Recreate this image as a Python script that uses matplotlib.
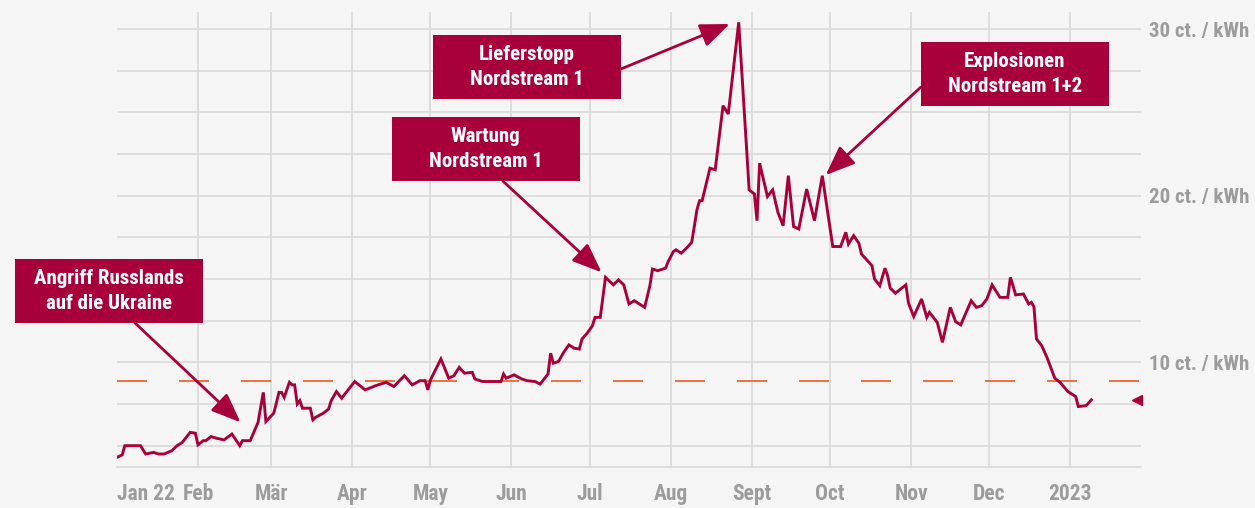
import numpy as np
import pandas as pd
import matplotlib
matplotlib.use("Agg")
import matplotlib.pyplot as plt
import matplotlib.dates as mdates
import matplotlib.transforms as mtransforms
from matplotlib.patches import Rectangle
from matplotlib import font_manager

# Gas price, days since 2022-01-01 and ct/kWh
days = [0, 2, 3, 9, 11, 14, 16, 18, 21, 23, 25, 28, 30, 31, 33, 34, 36, 38, 41, 44,
        47, 48, 51, 54, 56, 57, 60, 61, 62, 63, 64, 66, 67, 68, 69, 70, 71, 74, 75, 76,
        79, 81, 82, 84, 86, 91, 95, 99, 103, 106, 110, 113, 116, 118, 119, 120, 124, 127, 129, 131,
        133, 136, 137, 140, 147, 148, 149, 152, 155, 157, 160, 162, 165, 166, 167, 169, 171, 173, 175, 177,
        178, 180, 182, 183, 185, 187, 190, 192, 194, 196, 198, 202, 204, 205, 207, 210, 211, 213, 214, 216,
        218, 220, 221, 222, 223, 224, 227, 229, 232, 234, 238, 242, 244, 245, 246, 249, 251, 253, 255, 257,
        259, 261, 264, 267, 270, 274, 277, 279, 280, 282, 284, 285, 289, 290, 292, 294, 295, 296, 298, 302,
        303, 305, 308, 310, 311, 314, 316, 319, 321, 323, 327, 329, 331, 333, 335, 338, 341, 342, 343, 344,
        347, 349, 350, 351, 352, 354, 356, 359, 361, 364, 367, 368, 371, 373]
price = [4.3, 4.45, 5.0, 5.0, 4.5, 4.6, 4.5, 4.5, 4.7, 5.0, 5.2, 5.8, 5.75, 5.05, 5.3, 5.3, 5.55, 5.45, 5.35, 5.7,
         5.0, 5.3, 5.3, 6.4, 8.2, 6.45, 6.95, 7.55, 8.2, 8.2, 7.9, 8.8, 8.65, 8.65, 7.5, 7.7, 7.25, 7.25, 6.55, 6.7,
         6.95, 7.2, 7.7, 8.25, 7.85, 8.85, 8.35, 8.6, 8.8, 8.55, 9.2, 8.65, 8.9, 8.9, 8.35, 8.95, 10.2, 9.05, 9.2, 9.7,
         9.35, 9.4, 9.0, 8.85, 8.85, 9.3, 9.05, 9.25, 9.0, 8.9, 8.85, 8.7, 9.3, 10.55, 9.95, 10.05, 10.6, 11.05, 10.85, 10.8,
         11.4, 11.75, 12.2, 12.7, 12.7, 15.1, 14.65, 14.95, 14.65, 13.5, 13.7, 13.3, 14.6, 15.6, 15.5, 15.65, 16.05, 16.65, 16.75, 16.55,
         16.85, 17.2, 18.15, 19.15, 19.7, 19.7, 21.65, 21.55, 25.4, 24.9, 30.4, 20.35, 20.1, 18.5, 21.95, 19.95, 20.35, 19.0, 18.2, 21.2,
         18.15, 18.0, 20.4, 18.5, 21.2, 16.95, 16.95, 17.8, 17.1, 17.6, 17.15, 16.5, 15.8, 15.0, 14.6, 15.65, 15.2, 14.45, 14.15, 14.65,
         13.55, 12.75, 13.8, 12.7, 13.0, 12.4, 11.2, 13.3, 12.45, 12.25, 13.7, 13.3, 13.4, 13.8, 14.65, 13.9, 13.9, 15.1, 14.6, 14.05,
         14.1, 13.5, 13.6, 13.35, 11.4, 11.0, 10.3, 9.05, 8.8, 8.25, 7.95, 7.35, 7.4, 7.75]
reference_level = 8.9

month_ticks = ["2022-01-01", "2022-02-01", "2022-03-01", "2022-04-01", "2022-05-01", "2022-06-01",
               "2022-07-01", "2022-08-01", "2022-09-01", "2022-10-01", "2022-11-01", "2022-12-01", "2023-01-01"]
month_labels = ["Jan 22", "Feb", "Mär", "Apr", "May", "Jun", "Jul", "Aug", "Sept", "Oct", "Nov", "Dec", "2023"]
y_ticks = [10, 20, 30]
y_labels = ["10 ct. / kWh", "20 ct. / kWh", "30 ct. / kWh"]

# annotations: text, box (left day, bottom value), arrow start (day, value), arrow tip (day, value)
notes = [
    ("Angriff Russlands\nauf die Ukraine", (-39.0, 12.36), (6.9, 12.36), (47.3, 6.4)),
    ("Wartung\nNordstream 1", (105.2, 20.88), (147.7, 20.88), (185.5, 15.4)),
    ("Lieferstopp\nNordstream 1", (120.9, 25.8), (192.9, 27.6), (234.6, 30.3)),
    ("Explosionen\nNordstream 1+2", (307.7, 25.38), (307.7, 26.51), (271.3, 21.24)),
]

RED = "#A8003A"
BG = "#F5F5F5"
GRID = "#DADADA"
GREY = "#9C9C9C"
ORANGE = "#EE5A1E"

# pick a narrow family if one is there
installed = {f.name for f in font_manager.fontManager.ttflist}
wanted = ['Liberation Sans Narrow', 'DejaVu Sans Condensed', 'Roboto Condensed', 'Open Sans Condensed',
          'Roboto', 'DejaVu Sans']
plt.rcParams['font.family'] = [f for f in wanted if f in installed]

start = pd.Timestamp("2022-01-01")
dates = start + pd.to_timedelta(days, unit="D")


def to_num(d):
    return mdates.date2num(start + pd.Timedelta(days=d))


fig = plt.figure(figsize=(12.55, 5.08), dpi=100, facecolor=BG)
ax = fig.add_axes([117 / 1255, 1 - 466.7 / 508, (1141 - 117) / 1255, (466.7 - 12) / 508])
ax.set_facecolor(BG)

ax.set_xlim(to_num(0), to_num(392))
ax.set_ylim(3.74, 31.02)

# grid
ax.set_yticks(np.arange(5, 31, 2.5), minor=True)
ax.set_yticks(y_ticks)
ax.set_yticklabels(y_labels)
ax.yaxis.tick_right()
ax.grid(True, which="both", axis="y", color=GRID, lw=1.2)
ax.set_xticks(pd.to_datetime(month_ticks))
ax.set_xticklabels(month_labels)
ax.grid(True, axis="x", color=GRID, lw=1.2)
ax.xaxis.get_gridlines()[0].set_visible(False)
ax.tick_params(axis="both", which="both", length=0)
ax.tick_params(axis="x", pad=12, labelsize=15.5, labelcolor=GREY)
ax.tick_params(axis="y", pad=6, labelsize=15, labelcolor=GREY)
for lab in ax.get_xticklabels() + ax.get_yticklabels():
    lab.set_fontweight("bold")
    lab.set_fontstretch("condensed")
ax.get_xticklabels()[0].set_ha("left")
for s in ["top", "left", "right"]:
    ax.spines[s].set_visible(False)
ax.spines["bottom"].set_color(GRID)
ax.spines["bottom"].set_linewidth(1.2)
ax.set_axisbelow(True)

# reference level
ax.axhline(reference_level, color=ORANGE, lw=1.2, linestyle=(0, (18, 19.2)), zorder=2)

# price line
ax.plot(dates, price, color=RED, lw=2.1, zorder=3, solid_joinstyle="miter")

# latest value marker at the right edge
trans = mtransforms.blended_transform_factory(ax.transAxes, ax.transData)
ax.plot([0.9958], [price[-1]], marker="<", color=RED, ms=7, transform=trans, clip_on=False)

# annotation boxes and arrows
for text, (bx, by), (sx, sy), (tx, ty) in notes:
    rect = Rectangle((to_num(bx), by), 71.9, 3.84, facecolor=RED, edgecolor="none",
                     clip_on=False, zorder=5)
    ax.add_patch(rect)
    ax.text(to_num(bx + 36), by + 1.92, text, color="white", fontsize=15, fontweight="bold",
            fontstretch="condensed", ha="center", va="center", linespacing=1.4, zorder=6)
    ax.annotate("", xy=(to_num(tx), ty), xytext=(to_num(sx), sy),
                arrowprops=dict(arrowstyle="-|>,head_length=1.0,head_width=0.4", color=RED,
                                lw=2, mutation_scale=18, shrinkA=0, shrinkB=0),
                zorder=4, annotation_clip=False)

fig.savefig("out.png", dpi=100, facecolor=BG)
